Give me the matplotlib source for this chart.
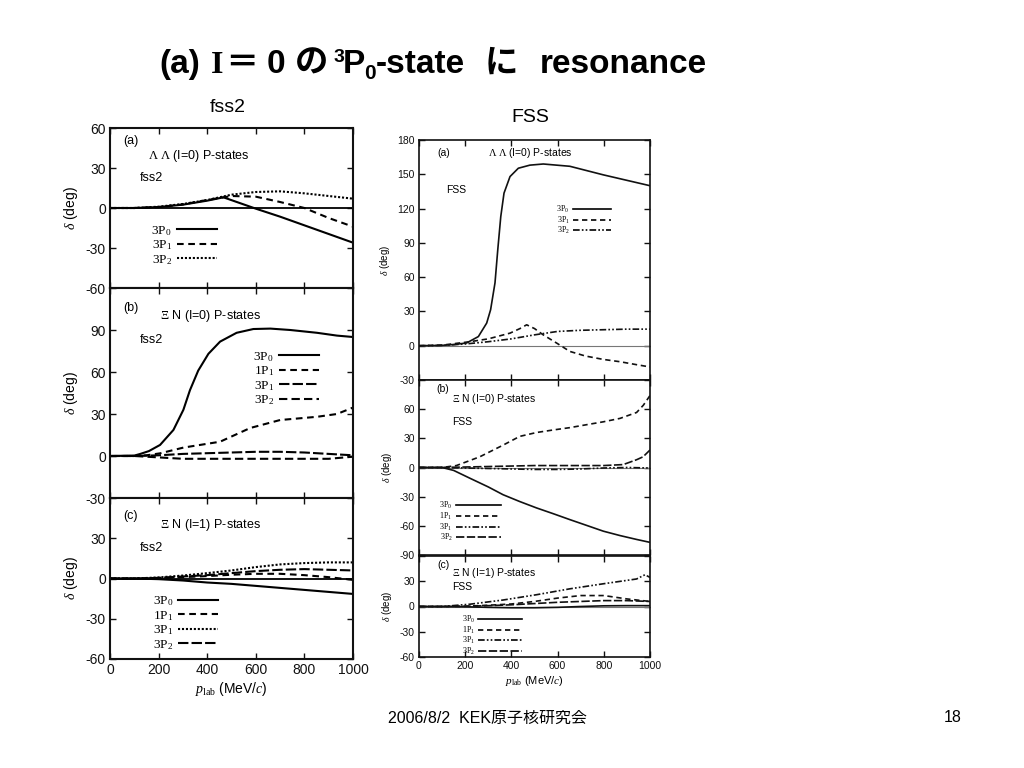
import matplotlib
matplotlib.use("Agg")
import matplotlib.pyplot as plt
from matplotlib.lines import Line2D

plt.rcParams.update({
    'font.family': ['Liberation Sans', 'Noto Sans CJK JP', 'DejaVu Sans'],
    'mathtext.fontset': 'custom',
    'mathtext.rm': 'Liberation Serif',
    'mathtext.it': 'Liberation Serif:italic',
    'mathtext.bf': 'Liberation Serif:bold',
})

# ---------------- data (p_lab in MeV/c, phase shift in deg) ----------------
# fss2, (a) Lambda Lambda (I=0)
fa_x_3P0 = [0, 100, 200, 300, 400, 467, 600, 700, 800, 900, 1000]
fa_3P0 = [0, 0, 0.7, 2.5, 5.5, 8, -0.5, -6.5, -13, -19.5, -26]
fa_x = [0, 100, 200, 300, 400, 500, 600, 700, 800, 900, 1000]
fa_3P1 = [0, 0, 0.7, 2.7, 6, 9, 8.5, 4.5, 0, -7.5, -14]
fa_3P2 = [0, 0, 1, 3, 6, 10, 12, 12.5, 11, 9, 7]

# fss2, (b) Xi N (I=0)
fb_x_3P0 = [0, 100, 123, 160, 206, 261, 302, 329, 363, 405, 453, 521, 590, 660, 742, 852, 934, 1000]
fb_3P0 = [0, 0.3, 1.4, 3.5, 7.9, 18.6, 33, 47, 61, 73, 81.7, 88, 90.7, 91, 90, 88, 86, 85]
fb_x_1P1 = [0, 100, 150, 206, 302, 453, 577, 700, 852, 934, 1000]
fb_1P1 = [0, 0, 0.5, 1.9, 6, 10.2, 20, 25.7, 28, 30, 34.6]
fb_x = [0, 100, 200, 300, 400, 500, 600, 700, 800, 900, 1000]
fb_3P1 = [0, 0, 0.5, 1.5, 2, 2.5, 3, 3, 2.5, 1.5, 0.5]
fb_3P2 = [0, 0, -1, -2, -2, -2, -2, -2, -2, -2, -0.5]

# fss2, (c) Xi N (I=1)
fc_x = [0, 100, 200, 300, 400, 500, 600, 700, 800, 900, 1000]
fc_3P0 = [0, 0, -0.5, -1.5, -3, -4, -5.5, -7, -8.5, -10, -11.5]
fc_1P1 = [0, 0, 0.3, 1, 1.8, 2.8, 3.5, 3.5, 2.5, 1, -1]
fc_3P1 = [0, 0, 0.8, 2.2, 4, 6, 8.5, 10.5, 11.5, 12, 12]
fc_3P2 = [0, 0, 0.5, 1.5, 2.5, 4, 5.5, 6.5, 7, 6.5, 6]

# FSS, (a) Lambda Lambda (I=0)
Fa_x_3P0 = [0, 100, 150, 206, 257, 293, 310, 329, 341, 354, 368, 394, 430, 480, 538, 653, 798, 1000]
Fa_3P0 = [0, 0.3, 1, 2.4, 8, 19.8, 31.5, 55, 84, 113, 133.5, 148, 155.3, 158, 159, 157, 149.5, 140]
Fa_x_3P1 = [0, 100, 220, 300, 394, 437, 466, 500, 537, 596, 653, 720, 798, 870, 942, 1000]
Fa_3P1 = [0, 0.5, 3.5, 6, 11, 15, 18.3, 15, 9.6, 2.3, -5, -9, -12, -14, -16.6, -18.6]
Fa_x = [0, 100, 200, 300, 400, 500, 600, 700, 800, 900, 1000]
Fa_3P2 = [0, 0.3, 1.5, 3.5, 6, 9.5, 12.5, 13.5, 14, 14.5, 14.5]

# FSS, (b) Xi N (I=0)
Fb_x_1P1 = [0, 100, 162, 263, 364, 436, 509, 581, 653, 725, 798, 870, 942, 971, 1000]
Fb_1P1 = [0, 0, 2, 11, 23, 32, 36, 38.6, 41, 44, 47, 50.5, 56.6, 64, 74]
Fb_x_3P0 = [0, 100, 150, 220, 300, 364, 436, 509, 581, 653, 725, 798, 870, 942, 1000]
Fb_3P0 = [0, 0, -3, -11, -20, -28, -35, -41.6, -47.5, -53.6, -59.5, -65.5, -70, -74, -77]
Fb_x = [0, 100, 200, 300, 400, 500, 600, 700, 800, 900, 1000]
Fb_3P1 = [0, 0, -0.5, -1, -1.5, -2, -2, -1.5, -0.5, 0, -0.5]
Fb_x_3P2 = [0, 100, 200, 300, 400, 500, 600, 700, 800, 884, 942, 970, 1000]
Fb_3P2 = [0, 0, 0.5, 1, 1.5, 2, 2, 2, 2, 3, 8, 11, 18]

# FSS, (c) Xi N (I=1)
Fc_x_3P1 = [0, 100, 220, 364, 509, 653, 798, 942, 978, 1000]
Fc_3P1 = [0, 0, 2.7, 7.7, 14, 21, 27, 32.7, 37.7, 34.6]
Fc_x = [0, 100, 200, 300, 400, 500, 600, 700, 800, 900, 1000]
Fc_1P1 = [0, 0, 0.3, 1.5, 3, 6, 10, 13, 13, 9, 6]
Fc_3P2 = [0, 0, 0.3, 1, 2, 3.5, 5, 6, 7, 7, 6]
Fc_3P0 = [0, 0, -0.3, -1, -1.5, -1.5, -1, 0, 0.8, 1, 1]

x_ticks = [0, 200, 400, 600, 800, 1000]

# ---------------- figure ----------------
W, H = 1024, 768
fig = plt.figure(figsize=(W / 100, H / 100), dpi=100)
fig.patch.set_facecolor('white')


def px_axes(x0, y_top, x1, y_bot):
    return fig.add_axes([x0 / W, 1 - y_bot / H, (x1 - x0) / W, (y_bot - y_top) / H])


SOLID = '-'
DASH = (0, (3.2, 2.2))
DOT = (0, (1.0, 0.9))
LONG = (0, (5, 1.5))
DDOT = (0, (4, 1.3, 1, 1.3, 1, 1.3))


def setup(ax, ylim, yticks, shown, lw_sp, lsize, xlabels):
    ax.set_xlim(0, 1000)
    ax.set_ylim(*ylim)
    ax.set_xticks(x_ticks)
    ax.set_yticks(yticks)
    ax.set_yticklabels([str(v) if v in shown else '' for v in yticks])
    if xlabels:
        ax.set_xticklabels([str(v) for v in x_ticks])
    else:
        ax.set_xticklabels([])
    ax.tick_params(direction='in', top=True, right=True, length=4, width=1,
                   labelsize=lsize, colors='#111111', pad=3)
    for s in ax.spines.values():
        s.set_linewidth(lw_sp)
        s.set_color('#111111')


def legend(ax, entries, lw, x, y, fs, hl, sp):
    handles = [Line2D([], [], color='black', lw=lw, ls=ls) for _, ls in entries]
    labels = [lab for lab, _ in entries]
    ax.legend(handles, labels, loc='upper left', bbox_to_anchor=(x, y), frameon=False,
              markerfirst=False, prop={'family': 'Liberation Serif', 'size': fs},
              handlelength=hl, handletextpad=0.4, labelspacing=sp, borderpad=0,
              borderaxespad=0)


L0, L1 = 110, 353
R0, R1 = 419, 650
lw_l = 1.5
lw_r = 1.2

# ---- fss2 (left) ----
axa = px_axes(L0, 128, L1, 288)
setup(axa, (-60, 60), [-60, -30, 0, 30, 60], [-60, -30, 0, 30, 60], 1.5, 10, False)
axa.axhline(0, color='black', lw=1.3)
axa.plot(fa_x_3P0, fa_3P0, color='black', lw=lw_l, ls=SOLID)
axa.plot(fa_x, fa_3P1, color='black', lw=lw_l, ls=DASH)
axa.plot(fa_x, fa_3P2, color='black', lw=lw_l, ls=DOT)
axa.text(0.053, 0.92, '(a)', transform=axa.transAxes, fontsize=9, va='center')
axa.text(0.156, 0.825, r'$\Lambda\ \Lambda$ (I=0) P-states', transform=axa.transAxes, fontsize=9, va='center')
axa.text(0.123, 0.69, 'fss2', transform=axa.transAxes, fontsize=9, va='center')
legend(axa, [(r'3P$_{\rm 0}$', SOLID), (r'3P$_{\rm 1}$', DASH), (r'3P$_{\rm 2}$', DOT)],
       lw_l, 0.17, 0.40, 9.5, 3.0, 0.05)

axb = px_axes(L0, 288, L1, 498)
setup(axb, (-30, 120), [-30, 0, 30, 60, 90, 120], [-30, 0, 30, 60, 90], 1.5, 10, False)
axb.plot(fb_x_3P0, fb_3P0, color='black', lw=lw_l, ls=SOLID)
axb.plot(fb_x_1P1, fb_1P1, color='black', lw=lw_l, ls=DASH)
axb.plot(fb_x, fb_3P1, color='black', lw=lw_l, ls=LONG)
axb.plot(fb_x, fb_3P2, color='black', lw=lw_l, ls=(0, (4, 2)))
axb.text(0.053, 0.905, '(b)', transform=axb.transAxes, fontsize=9, va='center')
axb.text(0.206, 0.867, r'$\Xi$ N (I=0) P-states', transform=axb.transAxes, fontsize=9, va='center')
axb.text(0.123, 0.752, 'fss2', transform=axb.transAxes, fontsize=9, va='center')
legend(axb, [(r'3P$_{\rm 0}$', SOLID), (r'1P$_{\rm 1}$', DASH), (r'3P$_{\rm 1}$', LONG),
             (r'3P$_{\rm 2}$', (0, (4, 2)))], lw_l, 0.59, 0.705, 9.5, 3.0, 0.05)

axc = px_axes(L0, 498, L1, 659)
setup(axc, (-60, 60), [-60, -30, 0, 30, 60], [-60, -30, 0, 30], 1.5, 10, True)
axc.axhline(0, color='black', lw=1.3)
axc.plot(fc_x, fc_3P0, color='black', lw=lw_l, ls=SOLID)
axc.plot(fc_x, fc_1P1, color='black', lw=lw_l, ls=DASH)
axc.plot(fc_x, fc_3P1, color='black', lw=lw_l, ls=DOT)
axc.plot(fc_x, fc_3P2, color='black', lw=lw_l, ls=LONG)
axc.text(0.053, 0.888, '(c)', transform=axc.transAxes, fontsize=9, va='center')
axc.text(0.206, 0.832, r'$\Xi$ N (I=1) P-states', transform=axc.transAxes, fontsize=9, va='center')
axc.text(0.123, 0.69, 'fss2', transform=axc.transAxes, fontsize=9, va='center')
legend(axc, [(r'3P$_{\rm 0}$', SOLID), (r'1P$_{\rm 1}$', DASH), (r'3P$_{\rm 1}$', DOT),
             (r'3P$_{\rm 2}$', LONG)], lw_l, 0.175, 0.40, 9.5, 3.0, 0.05)
axc.set_xlabel(r'$p_{\rm lab}$ (MeV/$c$)', fontsize=10, labelpad=2)

for ax in (axa, axb, axc):
    ax.set_ylabel(r'$\delta$ (deg)', fontsize=10, labelpad=4)

# ---- FSS (right) ----
ra = px_axes(R0, 140, R1, 380)
setup(ra, (-30, 180), [-30, 0, 30, 60, 90, 120, 150, 180],
      [-30, 0, 30, 60, 90, 120, 150, 180], 1.2, 7.5, False)
ra.axhline(0, color='#777777', lw=0.8)
ra.plot(Fa_x_3P0, Fa_3P0, color='#111111', lw=lw_r, ls=SOLID)
ra.plot(Fa_x_3P1, Fa_3P1, color='#111111', lw=lw_r, ls=DASH)
ra.plot(Fa_x, Fa_3P2, color='#111111', lw=lw_r, ls=DDOT)
ra.text(0.08, 0.946, '(a)', transform=ra.transAxes, fontsize=7.5, va='center')
ra.text(0.30, 0.946, r'$\Lambda\ \Lambda$ (I=0) P-states', transform=ra.transAxes, fontsize=7.5, va='center')
ra.text(0.117, 0.79, 'FSS', transform=ra.transAxes, fontsize=7.5, va='center')
legend(ra, [(r'3P$_{\rm 0}$', SOLID), (r'3P$_{\rm 1}$', DASH), (r'3P$_{\rm 2}$', DDOT)],
       lw_r, 0.595, 0.735, 5.8, 4.8, -0.05)

rb = px_axes(R0, 380, R1, 555)
setup(rb, (-90, 90), [-90, -60, -30, 0, 30, 60, 90], [-90, -60, -30, 0, 30, 60], 1.2, 7.5, False)
rb.axhline(0, color='#777777', lw=0.8)
rb.plot(Fb_x_3P0, Fb_3P0, color='#111111', lw=lw_r, ls=SOLID)
rb.plot(Fb_x_1P1, Fb_1P1, color='#111111', lw=lw_r, ls=DASH)
rb.plot(Fb_x, Fb_3P1, color='#111111', lw=lw_r, ls=DDOT)
rb.plot(Fb_x_3P2, Fb_3P2, color='#111111', lw=lw_r, ls=LONG)
rb.text(0.074, 0.95, '(b)', transform=rb.transAxes, fontsize=7.5, va='center')
rb.text(0.143, 0.89, r'$\Xi$ N (I=0) P-states', transform=rb.transAxes, fontsize=7.5, va='center')
rb.text(0.143, 0.76, 'FSS', transform=rb.transAxes, fontsize=7.5, va='center')
legend(rb, [(r'3P$_{\rm 0}$', SOLID), (r'1P$_{\rm 1}$', DASH), (r'3P$_{\rm 1}$', DDOT),
            (r'3P$_{\rm 2}$', LONG)], lw_r, 0.088, 0.315, 5.8, 5.6, -0.05)

rc = px_axes(R0, 556, R1, 657)
setup(rc, (-60, 60), [-60, -30, 0, 30, 60], [-60, -30, 0, 30], 1.2, 7.5, True)
rc.axhline(0, color='#777777', lw=0.8)
rc.plot(Fc_x, Fc_3P0, color='#111111', lw=lw_r, ls=SOLID)
rc.plot(Fc_x, Fc_1P1, color='#111111', lw=lw_r, ls=DASH)
rc.plot(Fc_x_3P1, Fc_3P1, color='#111111', lw=lw_r, ls=DDOT)
rc.plot(Fc_x, Fc_3P2, color='#111111', lw=lw_r, ls=LONG)
rc.text(0.078, 0.91, '(c)', transform=rc.transAxes, fontsize=7.5, va='center')
rc.text(0.143, 0.83, r'$\Xi$ N (I=1) P-states', transform=rc.transAxes, fontsize=7.5, va='center')
rc.text(0.143, 0.69, 'FSS', transform=rc.transAxes, fontsize=7.5, va='center')
legend(rc, [(r'3P$_{\rm 0}$', SOLID), (r'1P$_{\rm 1}$', DASH), (r'3P$_{\rm 1}$', DDOT),
            (r'3P$_{\rm 2}$', LONG)], lw_r, 0.185, 0.43, 5.8, 5.4, -0.05)
rc.set_xlabel(r'$p_{\rm lab}$ (MeV/$c$)', fontsize=8, labelpad=2)

for ax in (ra, rb, rc):
    ax.set_ylabel(r'$\delta$ (deg)', fontsize=7, labelpad=4)

# ---- slide text ----
fig.text(228 / W, 1 - 107 / H, 'fss2', fontsize=14, ha='center', va='center')
fig.text(530 / W, 1 - 117 / H, 'FSS', fontsize=14, ha='center', va='center')
fig.text(388 / W, 1 - 718 / H, '2006/8/2  KEK原子核研究会', fontsize=11.5, ha='left', va='center')
fig.text(962 / W, 1 - 718 / H, '18', fontsize=11.5, ha='right', va='center')

# title pieces: (text, left x px, baseline y px, size, family)
SANS = ['Liberation Sans', 'Noto Sans CJK JP']
SERIF = ['Liberation Serif', 'Noto Sans CJK JP']
CJK = ['Noto Sans CJK JP', 'Liberation Sans']
title_pieces = [
    ('(a)', 159, 73, 24, SANS),
    ('I', 211, 73, 23, SERIF),
    ('＝', 225, 73, 24, CJK),
    ('0', 267, 73, 24, SANS),
    ('の', 295, 73, 24, CJK),
    ('3', 334, 62, 14, SANS),
    ('P', 343, 73, 24, SANS),
    ('0', 364, 79, 15, SANS),
    ('-state', 376, 73, 24, SANS),
    ('に', 485, 73, 24, CJK),
    ('resonance', 540, 73, 24, SANS),
]
for txt, x, y, size, fam in title_pieces:
    fig.text(x / W, 1 - y / H, txt, fontsize=size, weight='bold', family=fam,
             ha='left', va='baseline')

fig.savefig('out.png', dpi=100)
